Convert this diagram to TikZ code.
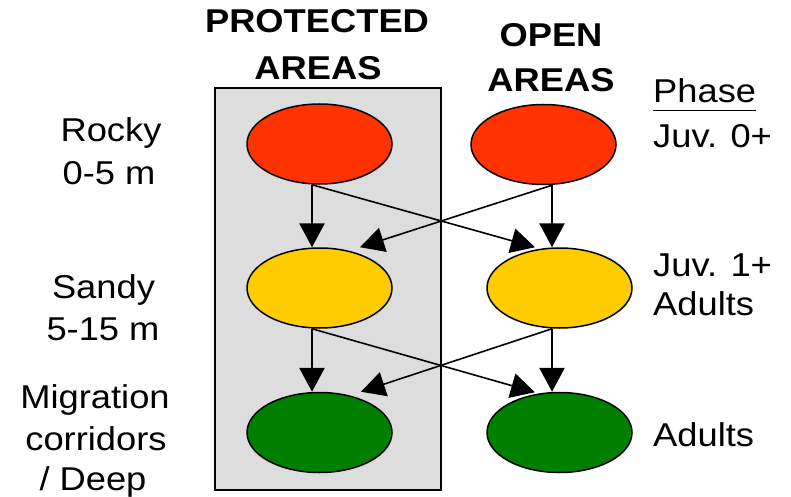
\documentclass[tikz,border=0pt]{standalone}
\usepackage{graphicx}
\usepackage{fontspec}
\setmainfont{Liberation Sans}
\usetikzlibrary{arrows.meta,calc,shapes.geometric}

\definecolor{rockred}{HTML}{FF3300}
\definecolor{sandyellow}{HTML}{FFCC00}
\definecolor{deepgreen}{HTML}{008000}
\definecolor{boxgrey}{HTML}{DDDDDD}

% slightly widened lettering
\newcommand{\widetext}[1]{\scalebox{1.1}[1]{#1}}

\begin{document}
\begin{tikzpicture}[x=1pt,y=-1pt,
  txt/.style={font=\fontsize{33}{38}\selectfont, inner sep=0pt, anchor=base},
  lefttxt/.style={txt, anchor=base west},
  hdr/.style={txt, font=\fontsize{33}{38}\selectfont\bfseries},
  zone/.style={ellipse, draw=black, line width=1.5pt, minimum width=145pt,
               minimum height=80pt, inner sep=0pt},
  vlink/.style={line width=2.8pt, -{Triangle[length=24pt,width=25pt]}},
  xlink/.style={line width=1.6pt, -{Triangle[length=24pt,width=25pt]}}]

% canvas
\fill[white] (0,0) rectangle (791,497);
\useasboundingbox (0,0) rectangle (791,497);

% protected-area panel
\node[draw=black, fill=boxgrey, line width=1.6pt, minimum width=226pt,
      minimum height=402pt, inner sep=0pt] (panel) at (328,289) {};

% column headings
\node[hdr] (hp1) at (317,33) {\widetext{PROTECTED}};
\node[hdr] (hp2) at (318,80) {\widetext{AREAS}};
\node[hdr] (ho1) at (551,47) {\widetext{OPEN}};
\node[hdr] (ho2) at (551,92) {\widetext{AREAS}};

% habitat labels
\node[txt] (l1a) at (111,142) {\widetext{Rocky}};
\node[txt] (l1b) at (109,184.5) {\widetext{0-5 m}};
\node[txt] (l2a) at (103.5,298) {\widetext{Sandy}};
\node[txt] (l2b) at (103,340) {\widetext{5-15 m}};
\node[txt] (l3a) at (95,408) {\widetext{Migration}};
\node[txt] (l3b) at (96,450) {\widetext{corridors}};
\node[txt] (l3c) at (93,490) {\widetext{/ Deep}};

% life-phase labels
\node[lefttxt] (ph) at (653,103) {\widetext{Phase}};
\draw[line width=1.6pt] ($(ph.base west)+(0,7.5)$) -- ($(ph.base east)+(0,7.5)$);
\node[lefttxt] (r1) at (653,148) {\widetext{Juv. 0+}};
\node[lefttxt] (r2a) at (653,276) {\widetext{Juv. 1+}};
\node[lefttxt] (r2b) at (653,315) {\widetext{Adults}};
\node[lefttxt] (r3) at (653,446) {\widetext{Adults}};

% habitat zones
\node[zone, fill=rockred]    (pr) at (319.5,144)   {};
\node[zone, fill=sandyellow] (ps) at (319.5,288)   {};
\node[zone, fill=deepgreen]  (pd) at (319.5,432.5) {};
\node[zone, fill=rockred]    (or) at (543.5,144.5) {};
\node[zone, fill=sandyellow] (os) at (559.5,288)   {};
\node[zone, fill=deepgreen]  (od) at (559.5,432.5) {};

% movements from rocky zones
\draw[vlink] ($(pr.south)+(-7.5,0)$) -- ($(ps.north)+(-7.5,0)$);
\draw[xlink] ($(pr.south)+(-7.5,0)$) -- ($(os.north)+(-24.5,0)$);
\draw[vlink] ($(or.south)+(8.5,0)$) -- ($(os.north)+(-7.5,0)$);
\draw[xlink] ($(or.south)+(8.5,0)$) -- ($(ps.north)+(40.5,0)$);

% movements from sandy zones
\draw[vlink] ($(ps.south)+(-7.5,0)$) -- ($(pd.north)+(-7.5,0)$);
\draw[xlink] ($(ps.south)+(-7.5,0)$) -- ($(od.north)+(-24.5,0.5)$);
\draw[vlink] ($(os.south)+(-7.5,0)$) -- ($(od.north)+(-7.5,0)$);
\draw[xlink] ($(os.south)+(-7.5,0)$) -- ($(pd.north)+(41.5,0)$);
\end{tikzpicture}
\end{document}
